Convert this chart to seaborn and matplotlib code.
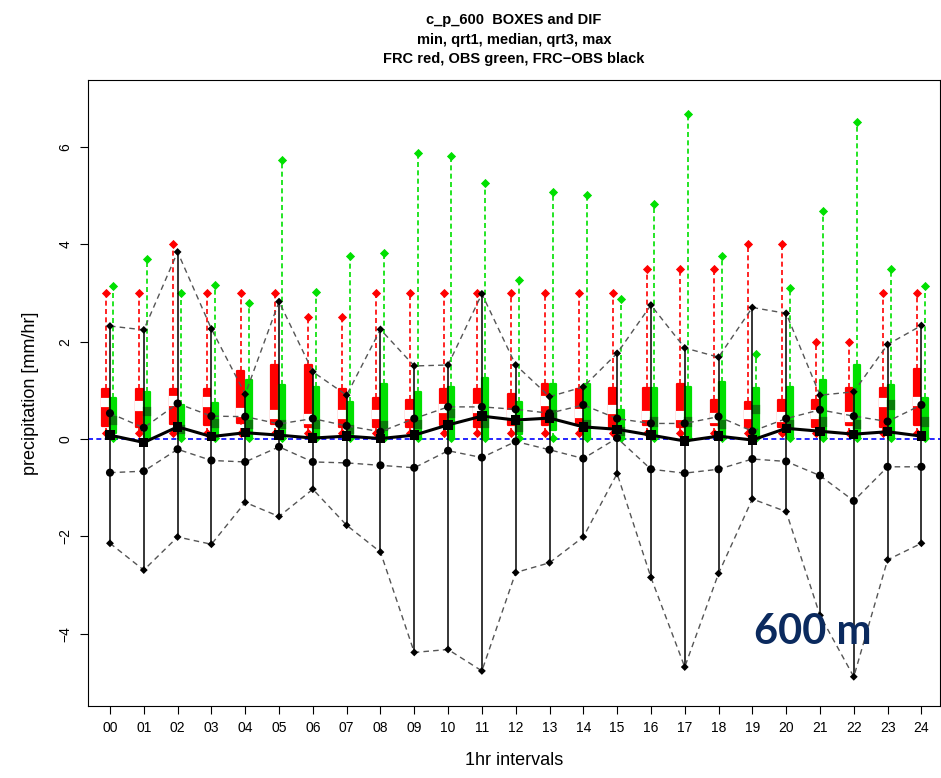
import matplotlib
matplotlib.use("Agg")
import matplotlib.pyplot as plt
import seaborn as sns
import numpy as np
import pandas as pd

hours = [f"{h:02d}" for h in range(25)]

# FRC (red)
frc_max = [3, 3, 4, 3, 3, 3, 2.5, 2.5, 3, 3, 3, 3, 3, 3, 3, 3, 3.5, 3.5, 3.5, 4, 4, 2, 2, 3, 3]
frc_q3 = [1.02, 1.02, 1.02, 1.02, 1.40, 1.52, 1.52, 1.02, 0.84, 0.80, 1.02, 1.02, 0.92, 1.12, 1.02,
          1.04, 1.04, 1.14, 0.80, 0.77, 0.80, 0.80, 1.05, 1.05, 1.43]
frc_med = [0.75, 0.68, 0.78, 0.76, 0.55, 0.50, 0.41, 0.51, 0.50, 0.50, 0.62, 0.62, 0.50, 0.78, 0.53,
           0.60, 0.49, 0.49, 0.43, 0.50, 0.45, 0.50, 0.45, 0.75, 0.77]
frc_q1 = [0.27, 0.25, 0.30, 0.29, 0.33, 0.30, 0.25, 0.25, 0.25, 0.25, 0.29, 0.25, 0.29, 0.29, 0.29,
          0.25, 0.29, 0.25, 0.29, 0.25, 0.25, 0.25, 0.29, 0.25, 0.29]
frc_min = [0.12] * 25

# OBS (green)
obs_max = [3.14, 3.70, 3.00, 3.16, 2.80, 5.73, 3.02, 3.76, 3.81, 5.88, 5.80, 5.26, 3.26, 5.08, 5.01,
           2.87, 4.83, 6.67, 3.76, 1.75, 3.11, 4.69, 6.50, 3.49, 3.15]
obs_q3 = [0.84, 0.97, 0.70, 0.73, 1.21, 1.11, 1.07, 0.77, 1.14, 0.97, 1.07, 1.25, 0.77, 1.14, 1.14,
          0.60, 1.04, 1.07, 1.18, 1.04, 1.07, 1.21, 1.53, 1.11, 0.84]
obs_med = [0.38, 0.56, 0.20, 0.32, 0.30, 0.30, 0.30, 0.20, 0.27, 0.30, 0.53, 0.32, 0.25, 0.50, 0.30,
           0.15, 0.35, 0.35, 0.30, 0.60, 0.30, 0.35, 0.30, 0.70, 0.35]
obs_q1 = [0.12, 0.05, 0.07, 0.07, 0.05, 0.02, 0.05, 0.05, 0.02, 0.02, 0.05, 0.05, 0.10, 0.18, 0.02,
          0.04, 0.02, 0.02, 0.05, 0.05, 0.02, 0.02, 0.05, 0.05, 0.02]
obs_min = [0.02] * 25

# FRC-OBS (black)
dif_max = [2.32, 2.24, 3.84, 2.26, 0.92, 2.82, 1.38, 0.90, 2.25, 1.50, 1.52, 2.98, 1.52, 0.87, 1.07,
           1.76, 2.75, 1.87, 1.68, 2.70, 2.58, 0.90, 0.97, 1.94, 2.33]
dif_q3 = [0.53, 0.23, 0.73, 0.47, 0.46, 0.31, 0.42, 0.27, 0.15, 0.42, 0.66, 0.66, 0.61, 0.53, 0.70,
          0.42, 0.32, 0.32, 0.46, 0.16, 0.42, 0.60, 0.47, 0.36, 0.70]
dif_med = [0.08, -0.07, 0.25, 0.05, 0.13, 0.08, 0.02, 0.06, 0.01, 0.08, 0.29, 0.47, 0.39, 0.43, 0.25,
           0.20, 0.08, -0.04, 0.06, -0.02, 0.22, 0.16, 0.10, 0.15, 0.06]
dif_q1 = [-0.69, -0.66, -0.21, -0.44, -0.47, -0.16, -0.47, -0.49, -0.54, -0.59, -0.24, -0.38, -0.05,
          -0.22, -0.40, 0.02, -0.62, -0.70, -0.62, -0.41, -0.46, -0.75, -1.27, -0.57, -0.57]
dif_min = [-2.14, -2.69, -2.01, -2.16, -1.30, -1.59, -1.03, -1.77, -2.32, -4.38, -4.32, -4.76, -2.74,
           -2.54, -2.01, -0.71, -2.84, -4.68, -2.76, -1.23, -1.49, -3.62, -4.88, -2.48, -2.14]

sns.set_style("ticks")
plt.rcParams["font.family"] = ["Liberation Sans", "DejaVu Sans"]
plt.rcParams.update({"text.color": "black", "axes.labelcolor": "black",
                     "xtick.color": "black", "ytick.color": "black"})

x = np.arange(len(hours))
df = pd.DataFrame({"x": x, "max": dif_max, "q3": dif_q3, "med": dif_med, "q1": dif_q1, "min": dif_min})

fig = plt.figure(figsize=(9.41, 7.78), dpi=100)
ax = fig.add_axes([88 / 941, 72 / 778, 852 / 941, 626 / 778])

red, green, dgreen = "#ff0000", "#00e000", "#0a7d0a"
xr, xg = x - 0.13, x + 0.10
dash = (0, (3, 2))

# whiskers
ax.vlines(xr, frc_q3, frc_max, colors=red, linestyles=dash, lw=1.2, zorder=2)
ax.vlines(xr, frc_min, frc_q1, colors=red, linestyles=dash, lw=1.2, zorder=2)
ax.vlines(xg, obs_q3, obs_max, colors=green, linestyles=dash, lw=1.2, zorder=2)
ax.vlines(xg, obs_min, obs_q1, colors=green, linestyles=dash, lw=1.2, zorder=2)
ax.scatter(xr, frc_max, marker="D", s=22, color=red, zorder=3, linewidths=0)
ax.scatter(xr, frc_min, marker="D", s=22, color=red, zorder=3, linewidths=0)
ax.scatter(xg, obs_max, marker="D", s=22, color=green, zorder=3, linewidths=0)
ax.scatter(xg, obs_min, marker="D", s=22, color=green, zorder=3, linewidths=0)

# boxes
band = 0.15
ax.bar(xr, np.subtract(frc_q3, frc_q1), bottom=frc_q1, width=0.2, color=red,
       edgecolor=red, lw=1.6, joinstyle="round", zorder=3)
ax.bar(xr, band, bottom=np.subtract(frc_med, band / 2), width=0.2, color="white",
       edgecolor="white", lw=1.6, zorder=3)
ax.bar(xg, np.subtract(obs_q3, obs_q1), bottom=obs_q1, width=0.18, color=green,
       edgecolor=green, lw=1.6, joinstyle="round", zorder=3)
ax.bar(xg, band, bottom=np.subtract(obs_med, band / 2), width=0.18, color=dgreen,
       edgecolor=dgreen, lw=1.6, zorder=3)

# difference
ax.vlines(x, dif_min, dif_max, colors="black", lw=1.1, zorder=4)
for col in ["max", "q3", "q1", "min"]:
    sns.lineplot(data=df, x="x", y=col, ax=ax, color="#555555", lw=1.0,
                 linestyle=(0, (4, 3)), zorder=4)
sns.lineplot(data=df, x="x", y="med", ax=ax, color="black", lw=2.2, zorder=5)
sns.scatterplot(data=df, x="x", y="med", ax=ax, marker="s", s=45, color="black",
                edgecolor="none", zorder=6)
for col in ["q3", "q1"]:
    sns.scatterplot(data=df, x="x", y=col, ax=ax, marker="o", s=34, color="black",
                    edgecolor="none", zorder=6)
for col in ["max", "min"]:
    sns.scatterplot(data=df, x="x", y=col, ax=ax, marker="D", s=16, color="black",
                    edgecolor="none", zorder=6)

ax.axhline(0, color="#0000ff", lw=1.2, linestyle=dash, zorder=1)

ax.set_xlim(-0.65, 24.55)
ax.set_ylim(-5.48, 7.37)
ax.set_xticks(x)
ax.set_xticklabels(hours, fontsize=10)
ax.set_yticks([-4, -2, 0, 2, 4, 6])
ax.set_yticklabels(["\u22124", "\u22122", "0", "2", "4", "6"], fontsize=10, rotation=90, va="center")
ax.tick_params(direction="out", length=6, width=0.8, color="black", pad=5)
for s in ax.spines.values():
    s.set_color("black")
    s.set_linewidth(0.8)
ax.set_xlabel("1hr intervals", fontsize=13, labelpad=12)
ax.set_ylabel("precipitation [mm/hr]", fontsize=13, labelpad=14)
ax.set_title("c_p_600  BOXES and DIF\nmin, qrt1, median, qrt3, max\nFRC red, OBS green, FRC\u2212OBS black",
             fontsize=10.5, fontweight="bold", linespacing=1.5, pad=12)

ax.text(0.851, 0.118, "600 m", transform=ax.transAxes, fontsize=30, fontweight="bold",
        color="#0b2a5e", family=["Lato", "DejaVu Sans"], ha="center", va="center", zorder=7)

fig.savefig("out.png", dpi=100)
